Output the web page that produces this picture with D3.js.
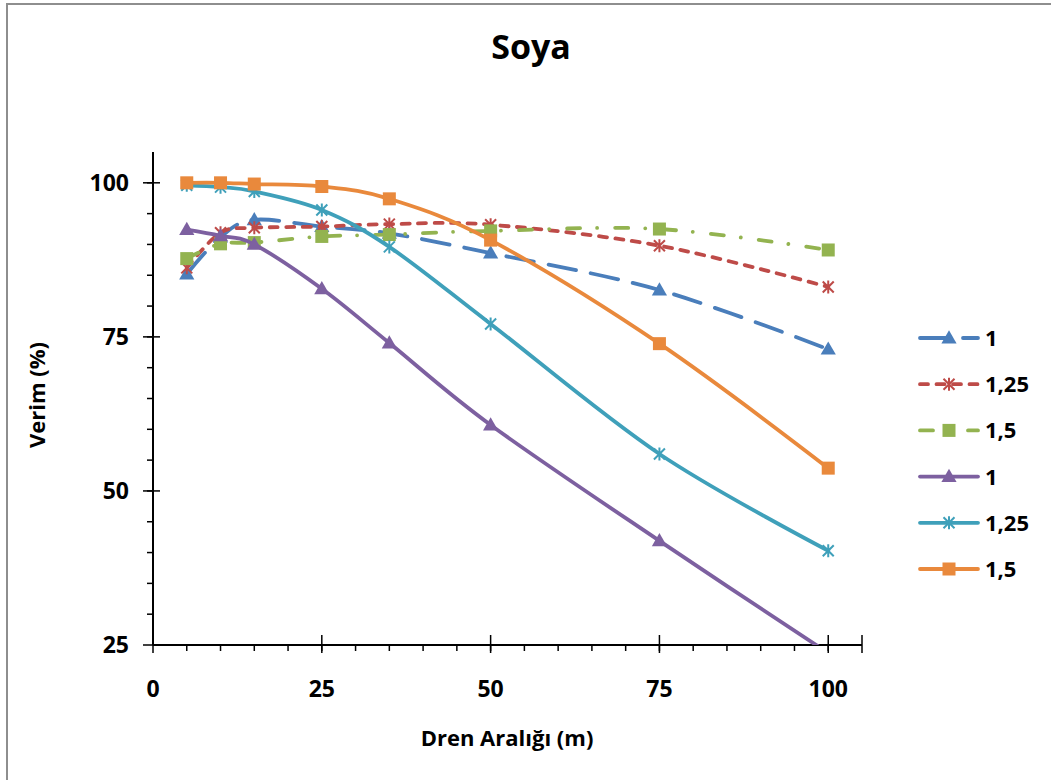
<!DOCTYPE html>
<html>
<head>
<meta charset="utf-8">
<script src="https://cdnjs.cloudflare.com/ajax/libs/d3/7.8.5/d3.min.js"></script>
<style>
  body { margin: 0; background: #fff; }
  text { font-family: "Open Sans", "Liberation Sans", sans-serif; font-weight: bold; fill: #000; }
</style>
</head>
<body>
<div id="chart"></div>
<script>
// data
var drenAraligi = [5, 10, 15, 25, 35, 50, 75, 100];
var seriesNames = ["1", "1,25", "1,5", "1", "1,25", "1,5"];
var verim1 = [85.2, 91.2, 94.0, 92.9, 91.8, 88.6, 82.6, 73.0];
var verim125 = [86.2, 91.9, 92.7, 92.9, 93.3, 93.2, 89.8, 83.1];
var verim15 = [87.7, 90.1, 90.3, 91.3, 91.6, 92.2, 92.5, 89.1];
var verim1b = [92.4, 91.4, 90.0, 82.8, 74.0, 60.7, 41.9, 23.7];
var verim125b = [99.6, 99.3, 98.6, 95.6, 89.6, 77.1, 56.0, 40.3];
var verim15b = [100, 100, 99.8, 99.4, 97.4, 90.7, 73.9, 53.7];
var xTicks = [0, 25, 50, 75, 100];
var yTicks = [25, 50, 75, 100];

//define chart parameters
var svgWidth = 1051;
var svgHeight = 780;

var svg = d3.select("#chart")
  .append("svg")
  .attr("width", svgWidth)
  .attr("height", svgHeight);

// chart area border (runs off the picture on right / bottom)
svg.append("rect")
  .attr("x", 7)
  .attr("y", 4)
  .attr("width", 1100)
  .attr("height", 800)
  .attr("fill", "none")
  .attr("stroke", "#8e8e8e")
  .attr("stroke-width", 2);

var xScale = d3.scaleLinear().domain([0, 105]).range([153, 862]);
var yScale = d3.scaleLinear().domain([25, 105]).range([645, 152]);

// series styles
var styles = [
  { color: "#4A7EBB", dash: "28,15", marker: "triangle" },
  { color: "#BE4B48", dash: "8,8.5", marker: "star" },
  { color: "#93B350", dash: "13,17,0.01,18", marker: "square" },
  { color: "#7D60A0", dash: null, marker: "triangle" },
  { color: "#3FA0BA", dash: null, marker: "star" },
  { color: "#E9893C", dash: null, marker: "square" }
];
var seriesValues = [verim1, verim125, verim15, verim1b, verim125b, verim15b];

var series = seriesValues.map(function(vals, i) {
  return {
    name: seriesNames[i],
    style: styles[i],
    points: vals.map(function(v, j) { return { x: drenAraligi[j], y: v }; })
  };
});

// title
svg.append("text")
  .attr("x", 531)
  .attr("y", 59)
  .attr("text-anchor", "middle")
  .style("font-size", "34px")
  .text("Soya");

var g = svg.append("g");

// minor ticks x
g.selectAll(".xminor")
  .data(d3.range(5, 105, 5))
  .enter()
  .append("line")
  .attr("x1", d => xScale(d))
  .attr("x2", d => xScale(d))
  .attr("y1", 645)
  .attr("y2", 651)
  .attr("stroke", "#000")
  .attr("stroke-width", 1.5);
// major ticks x
g.selectAll(".xmajor")
  .data(xTicks.concat([105]))
  .enter()
  .append("line")
  .attr("x1", d => xScale(d))
  .attr("x2", d => xScale(d))
  .attr("y1", 635)
  .attr("y2", 653)
  .attr("stroke", "#000")
  .attr("stroke-width", 1.5);
// minor ticks y
g.selectAll(".yminor")
  .data(d3.range(30, 105, 5))
  .enter()
  .append("line")
  .attr("x1", 147)
  .attr("x2", 153)
  .attr("y1", d => yScale(d))
  .attr("y2", d => yScale(d))
  .attr("stroke", "#000")
  .attr("stroke-width", 1.5);
// major ticks y
g.selectAll(".ymajor")
  .data(yTicks)
  .enter()
  .append("line")
  .attr("x1", 143)
  .attr("x2", 160)
  .attr("y1", d => yScale(d))
  .attr("y2", d => yScale(d))
  .attr("stroke", "#000")
  .attr("stroke-width", 1.5);

// axis lines
g.append("line")
  .attr("x1", xScale(0)).attr("x2", xScale(105))
  .attr("y1", yScale(25)).attr("y2", yScale(25))
  .attr("stroke", "#000").attr("stroke-width", 2);
g.append("line")
  .attr("x1", xScale(0)).attr("x2", xScale(0))
  .attr("y1", yScale(25)).attr("y2", yScale(105))
  .attr("stroke", "#000").attr("stroke-width", 2);

// tick labels
g.selectAll(".xlabel")
  .data(xTicks)
  .enter()
  .append("text")
  .attr("x", d => xScale(d))
  .attr("y", 697)
  .attr("text-anchor", "middle")
  .style("font-size", "23px")
  .text(d => d);
g.selectAll(".ylabel")
  .data(yTicks)
  .enter()
  .append("text")
  .attr("x", 129)
  .attr("y", d => yScale(d))
  .attr("dy", "0.36em")
  .attr("text-anchor", "end")
  .style("font-size", "23px")
  .text(d => d);

// axis titles
svg.append("text")
  .attr("x", 507)
  .attr("y", 746)
  .attr("text-anchor", "middle")
  .style("font-size", "22px")
  .text("Dren Aralığı (m)");
svg.append("text")
  .attr("transform", "translate(45, 395) rotate(-90)")
  .attr("text-anchor", "middle")
  .style("font-size", "22px")
  .text("Verim (%)");

// clip to plot area
svg.append("clipPath")
  .attr("id", "plotClip")
  .append("rect")
  .attr("x", xScale(0))
  .attr("y", yScale(105))
  .attr("width", xScale(105) - xScale(0))
  .attr("height", yScale(25) - yScale(105));

var line = d3.line()
  .x(d => xScale(d.x))
  .y(d => yScale(d.y))
  .curve(d3.curveCardinal.tension(0));

// draw a marker of a given kind
function drawMarker(sel, kind, color, x, y) {
  if (kind === "triangle") {
    sel.append("path")
      .attr("d", d3.symbol().type(d3.symbolTriangle).size(100)())
      .attr("transform", `translate(${x}, ${y + 1})`)
      .attr("fill", color);
  } else if (kind === "square") {
    sel.append("rect")
      .attr("x", x - 6.5).attr("y", y - 6.5)
      .attr("width", 13).attr("height", 13)
      .attr("fill", color);
  } else {
    var r = 5.5;
    sel.append("path")
      .attr("d", `M${x - r},${y - r}L${x + r},${y + r}M${x - r},${y + r}L${x + r},${y - r}M${x},${y - r - 1}L${x},${y + r + 1}`)
      .attr("stroke", color)
      .attr("stroke-width", 2)
      .attr("fill", "none");
  }
}

var plot = svg.append("g").attr("clip-path", "url(#plotClip)");

series.forEach(function(s) {
  var sg = plot.append("g");
  sg.append("path")
    .datum(s.points)
    .attr("d", line)
    .attr("fill", "none")
    .attr("stroke", s.style.color)
    .attr("stroke-width", 3.8)
    .attr("stroke-linecap", "round")
    .attr("stroke-linejoin", "round")
    .attr("stroke-dasharray", s.style.dash);
  s.points.forEach(function(p) {
    drawMarker(sg, s.style.marker, s.style.color, xScale(p.x), yScale(p.y));
  });
});

// legend
var legend = svg.append("g");
series.forEach(function(s, i) {
  var ly = 338 + i * 46.2;
  legend.append("line")
    .attr("x1", 920).attr("x2", 978)
    .attr("y1", ly).attr("y2", ly)
    .attr("stroke", s.style.color)
    .attr("stroke-width", 3.8)
    .attr("stroke-linecap", "round")
    .attr("stroke-dasharray", s.style.dash);
  drawMarker(legend, s.style.marker, s.style.color, 949, ly);
  legend.append("text")
    .attr("x", 985)
    .attr("y", ly)
    .attr("dy", "0.36em")
    .style("font-size", "22px")
    .text(s.name);
});
</script>
</body>
</html>
